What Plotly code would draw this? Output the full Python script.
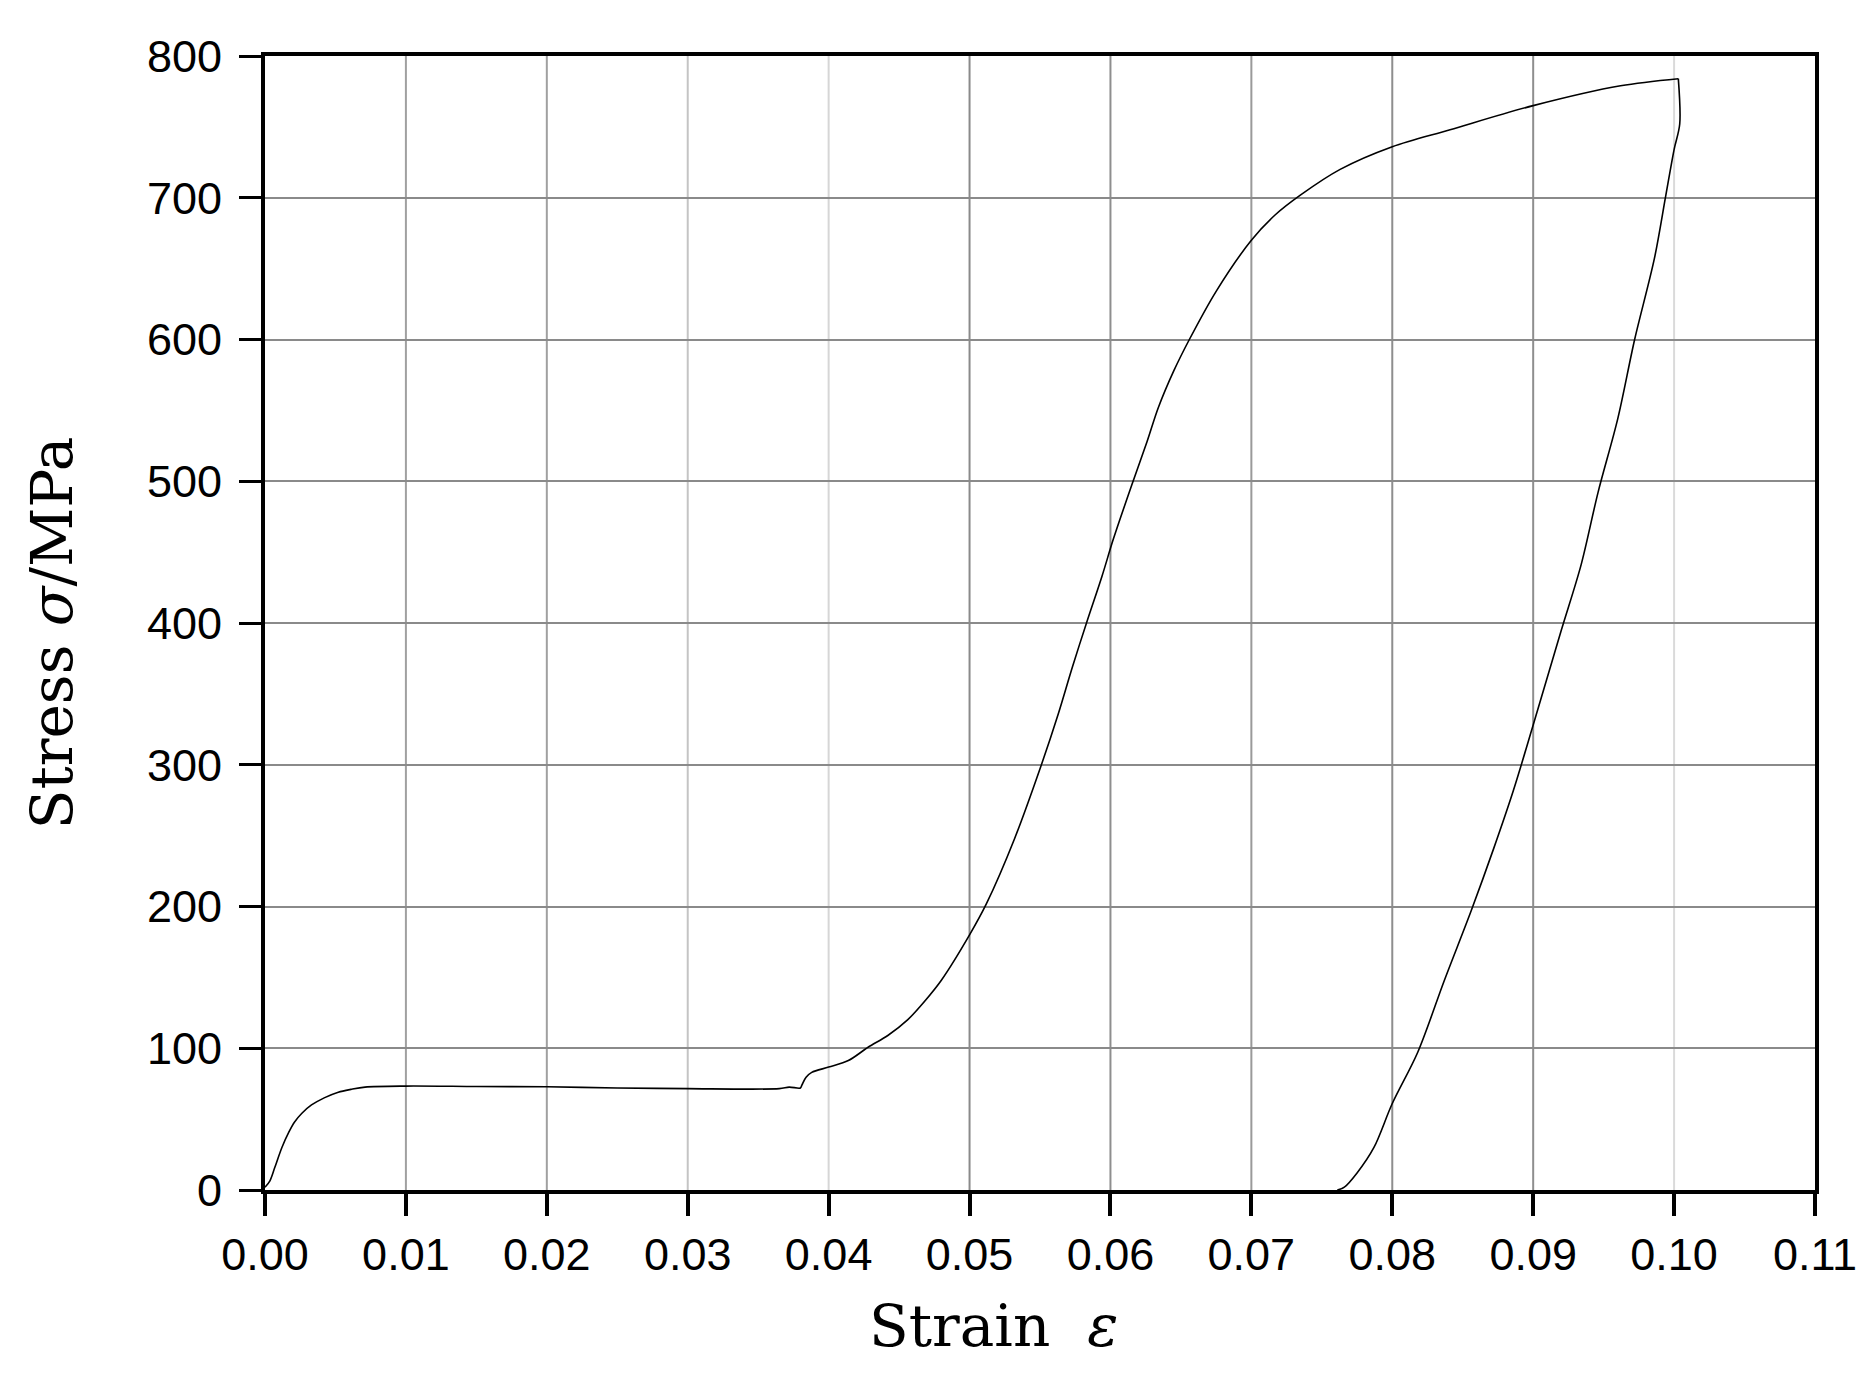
import plotly.graph_objects as go

# Loading branch (strain, stress in MPa)
load_strain = [0.0, 0.00035, 0.0007, 0.0012, 0.0017, 0.0021, 0.0026, 0.0033, 0.0042, 0.0052,
               0.0061, 0.0071, 0.010, 0.015, 0.020, 0.025, 0.030, 0.0365, 0.0372, 0.0380,
               0.0381, 0.0384, 0.0388, 0.0400, 0.0414, 0.0428, 0.0442, 0.0456, 0.0468, 0.0480,
               0.0500, 0.0512, 0.0532, 0.0551, 0.0563, 0.0573, 0.0583, 0.0594, 0.0602, 0.0615,
               0.0626, 0.0634, 0.0645, 0.0656, 0.0675, 0.0700, 0.0717, 0.0735, 0.0763, 0.0800,
               0.0841, 0.0900, 0.0962, 0.1003]
load_stress = [2, 6.5, 16, 30, 41, 48, 54, 60, 65, 69,
               71, 72.6, 73.3, 73, 72.8, 72, 71.5, 71.5, 72.6, 72,
               74, 79.6, 83, 86.7, 91.3, 100.7, 109, 120, 133, 148,
               180, 202, 248, 300, 336, 369, 400, 433, 459, 497,
               528, 552, 578, 600, 634, 670, 688, 702, 720, 736,
               748, 765, 779, 784]

# Unloading branch
unload_strain = [0.1003, 0.1004, 0.1000, 0.0994, 0.0986, 0.0972, 0.0960, 0.0946, 0.0934, 0.0920,
                 0.0900, 0.0886, 0.0872, 0.0856, 0.0837, 0.0818, 0.0800, 0.0787, 0.0775, 0.0766,
                 0.0761]
unload_stress = [784, 752, 734, 701, 657, 600, 544, 492, 441, 395,
                 328, 282, 241, 197, 148, 97, 61, 30, 12, 2,
                 0]

x_ticks = [0.00, 0.01, 0.02, 0.03, 0.04, 0.05, 0.06, 0.07, 0.08, 0.09, 0.10, 0.11]
y_ticks = [0, 100, 200, 300, 400, 500, 600, 700, 800]

# vertical grid line shades (scan shows uneven greys)
x_grid_colors = ["#8a8a8a", "#a0a0a0", "#a0a0a0", "#c4c4c4", "#d6d6d6", "#8a8a8a",
                 "#8e8e8e", "#9a9a9a", "#8e8e8e", "#8e8e8e", "#dadada", "#8a8a8a"]

line_style = dict(color="black", width=1.6, shape="spline", smoothing=0.9)

fig = go.Figure()
fig.add_trace(go.Scatter(x=load_strain, y=load_stress, mode="lines", line=line_style,
                         showlegend=False))
fig.add_trace(go.Scatter(x=unload_strain, y=unload_stress, mode="lines", line=line_style,
                         showlegend=False))

for xv, col in zip(x_ticks[1:-1], x_grid_colors[1:-1]):
    fig.add_shape(type="line", xref="x", yref="paper", x0=xv, x1=xv, y0=0, y1=1,
                  line=dict(color=col, width=2), layer="below")

tick_font = dict(family="Liberation Sans, Arial, sans-serif", size=45, color="black")
title_font = dict(family="DejaVu Serif, serif", size=58, color="black")

L, T, PW, PH = 257, 48, 1550, 1134

fig.update_layout(
    width=1875, height=1376,
    margin=dict(l=L, r=1875 - L - PW, t=T, b=1376 - T - PH),
    paper_bgcolor="white", plot_bgcolor="white",
    xaxis=dict(range=[0, 0.11], tickvals=x_ticks, ticktext=[f"{v:.2f}" for v in x_ticks],
               showgrid=False,
               showline=True, linecolor="black", linewidth=4, mirror=True,
               ticks="outside", ticklen=22, tickwidth=4, tickcolor="black",
               tickfont=tick_font, ticklabelstandoff=0, zeroline=False),
    yaxis=dict(range=[0, 800], tickvals=y_ticks,
               showgrid=True, gridcolor="#8a8a8a", gridwidth=2,
               showline=True, linecolor="black", linewidth=4, mirror=True,
               ticks="outside", ticklen=22, tickwidth=3, tickcolor="black",
               tickfont=tick_font, ticklabelstandoff=8, zeroline=False),
    annotations=[
        dict(text="Strain  <i>ε</i>", x=(992 - 263) / (1815 - 263), y=-0.12,
             xref="paper", yref="paper", showarrow=False, font=title_font,
             xanchor="center", yanchor="middle"),
        dict(text="Stress <i>σ</i>/MPa", x=-(263 - 50) / (1815 - 263), y=(1193 - 633) / (1193 - 53),
             xref="paper", yref="paper", showarrow=False, font=title_font, textangle=-90,
             xanchor="center", yanchor="middle"),
    ],
)

fig.write_html("out.html")
